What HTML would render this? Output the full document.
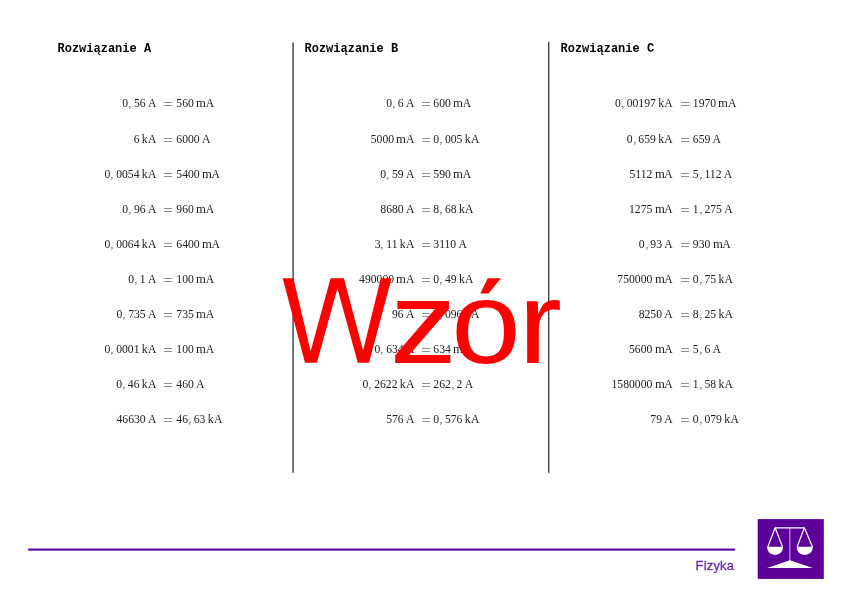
<!DOCTYPE html>
<html><head><meta charset="utf-8">
<style>
html,body{margin:0;padding:0;background:#fff;}
body{width:842px;height:596px;position:relative;overflow:hidden;}
.h{position:absolute;font-family:"Liberation Mono",monospace;font-weight:bold;font-size:12px;line-height:16px;height:16px;color:#000;white-space:pre;transform-origin:0 12px;transform:scaleY(1.07);}
.m{position:absolute;font-family:"Liberation Serif",serif;font-size:11.68px;line-height:20px;height:20px;color:#222;white-space:pre;transform-origin:0 13px;transform:scaleY(1.05);}
.m i,.m b{font-style:normal;font-weight:normal;}
.cm{display:inline-block;transform-origin:50% 75%;transform:translateX(0.4px) scale(0.8);}
.c{display:inline-block;width:2.89px;}
.u{display:inline-block;width:2.3px;}
.k{padding-right:0.3px;}
.mm{display:inline-block;padding-right:0.5px;transform-origin:0 0;transform:scaleX(1.09);}
.eq{position:absolute;width:7.7px;height:4px;border-top:1px solid #909090;border-bottom:1px solid #909090;box-sizing:border-box;}
.vl{position:absolute;}
.foot{position:absolute;left:28.2px;width:707.0px;top:548.55px;height:2.1px;background:#5c0099;}
.fiz{position:absolute;font-family:"Liberation Sans",sans-serif;font-size:12.9px;line-height:20px;color:#6e28b4;left:695.6px;top:556.2px;transform-origin:0 15px;letter-spacing:0.22px;transform:scaleX(1.0);-webkit-text-stroke:0.3px #6e28b4;}
svg{position:absolute;left:0;top:0;}
</style></head><body><div id="wrap" style="position:absolute;left:0;top:0;width:842px;height:596px;will-change:transform">
<div class="h" style="left:57.5px;top:41px">Rozwiązanie A</div>
<div class="h" style="left:304.5px;top:41px">Rozwiązanie B</div>
<div class="h" style="left:560.5px;top:41px">Rozwiązanie C</div>
<div class=m style="top:94.00px;right:685.60px">0<b class=cm>,</b><i class=c></i>56<i class=u></i>A</div>
<div class=eq style="top:101.80px;left:164.0px"></div>
<div class=m style="top:94.00px;left:176.30px">560<i class=u></i><b class=mm>m</b>A</div>
<div class=m style="top:130.05px;right:685.60px">6<i class=u></i><b class=k>k</b>A</div>
<div class=eq style="top:137.85px;left:164.0px"></div>
<div class=m style="top:130.05px;left:176.30px">6000<i class=u></i>A</div>
<div class=m style="top:165.05px;right:685.60px">0<b class=cm>,</b><i class=c></i>0054<i class=u></i><b class=k>k</b>A</div>
<div class=eq style="top:172.85px;left:164.0px"></div>
<div class=m style="top:165.05px;left:176.30px">5400<i class=u></i><b class=mm>m</b>A</div>
<div class=m style="top:200.05px;right:685.60px">0<b class=cm>,</b><i class=c></i>96<i class=u></i>A</div>
<div class=eq style="top:207.85px;left:164.0px"></div>
<div class=m style="top:200.05px;left:176.30px">960<i class=u></i><b class=mm>m</b>A</div>
<div class=m style="top:235.05px;right:685.60px">0<b class=cm>,</b><i class=c></i>0064<i class=u></i><b class=k>k</b>A</div>
<div class=eq style="top:242.85px;left:164.0px"></div>
<div class=m style="top:235.05px;left:176.30px">6400<i class=u></i><b class=mm>m</b>A</div>
<div class=m style="top:270.05px;right:685.60px">0<b class=cm>,</b><i class=c></i>1<i class=u></i>A</div>
<div class=eq style="top:277.85px;left:164.0px"></div>
<div class=m style="top:270.05px;left:176.30px">100<i class=u></i><b class=mm>m</b>A</div>
<div class=m style="top:305.05px;right:685.60px">0<b class=cm>,</b><i class=c></i>735<i class=u></i>A</div>
<div class=eq style="top:312.85px;left:164.0px"></div>
<div class=m style="top:305.05px;left:176.30px">735<i class=u></i><b class=mm>m</b>A</div>
<div class=m style="top:340.05px;right:685.60px">0<b class=cm>,</b><i class=c></i>0001<i class=u></i><b class=k>k</b>A</div>
<div class=eq style="top:347.85px;left:164.0px"></div>
<div class=m style="top:340.05px;left:176.30px">100<i class=u></i><b class=mm>m</b>A</div>
<div class=m style="top:375.05px;right:685.60px">0<b class=cm>,</b><i class=c></i>46<i class=u></i><b class=k>k</b>A</div>
<div class=eq style="top:382.85px;left:164.0px"></div>
<div class=m style="top:375.05px;left:176.30px">460<i class=u></i>A</div>
<div class=m style="top:410.05px;right:685.60px">46630<i class=u></i>A</div>
<div class=eq style="top:417.85px;left:164.0px"></div>
<div class=m style="top:410.05px;left:176.30px">46<b class=cm>,</b><i class=c></i>63<i class=u></i><b class=k>k</b>A</div>
<div class=m style="top:94.00px;right:427.60px">0<b class=cm>,</b><i class=c></i>6<i class=u></i>A</div>
<div class=eq style="top:101.80px;left:422.0px"></div>
<div class=m style="top:94.00px;left:433.30px">600<i class=u></i><b class=mm>m</b>A</div>
<div class=m style="top:130.05px;right:427.60px">5000<i class=u></i><b class=mm>m</b>A</div>
<div class=eq style="top:137.85px;left:422.0px"></div>
<div class=m style="top:130.05px;left:433.30px">0<b class=cm>,</b><i class=c></i>005<i class=u></i><b class=k>k</b>A</div>
<div class=m style="top:165.05px;right:427.60px">0<b class=cm>,</b><i class=c></i>59<i class=u></i>A</div>
<div class=eq style="top:172.85px;left:422.0px"></div>
<div class=m style="top:165.05px;left:433.30px">590<i class=u></i><b class=mm>m</b>A</div>
<div class=m style="top:200.05px;right:427.60px">8680<i class=u></i>A</div>
<div class=eq style="top:207.85px;left:422.0px"></div>
<div class=m style="top:200.05px;left:433.30px">8<b class=cm>,</b><i class=c></i>68<i class=u></i><b class=k>k</b>A</div>
<div class=m style="top:235.05px;right:427.60px">3<b class=cm>,</b><i class=c></i>11<i class=u></i><b class=k>k</b>A</div>
<div class=eq style="top:242.85px;left:422.0px"></div>
<div class=m style="top:235.05px;left:433.30px">3110<i class=u></i>A</div>
<div class=m style="top:270.05px;right:427.60px">490000<i class=u></i><b class=mm>m</b>A</div>
<div class=eq style="top:277.85px;left:422.0px"></div>
<div class=m style="top:270.05px;left:433.30px">0<b class=cm>,</b><i class=c></i>49<i class=u></i><b class=k>k</b>A</div>
<div class=m style="top:305.05px;right:427.60px">96<i class=u></i>A</div>
<div class=eq style="top:312.85px;left:422.0px"></div>
<div class=m style="top:305.05px;left:433.30px">0<b class=cm>,</b><i class=c></i>096<i class=u></i><b class=k>k</b>A</div>
<div class=m style="top:340.05px;right:427.60px">0<b class=cm>,</b><i class=c></i>634<i class=u></i>A</div>
<div class=eq style="top:347.85px;left:422.0px"></div>
<div class=m style="top:340.05px;left:433.30px">634<i class=u></i><b class=mm>m</b>A</div>
<div class=m style="top:375.05px;right:427.60px">0<b class=cm>,</b><i class=c></i>2622<i class=u></i><b class=k>k</b>A</div>
<div class=eq style="top:382.85px;left:422.0px"></div>
<div class=m style="top:375.05px;left:433.30px">262<b class=cm>,</b><i class=c></i>2<i class=u></i>A</div>
<div class=m style="top:410.05px;right:427.60px">576<i class=u></i>A</div>
<div class=eq style="top:417.85px;left:422.0px"></div>
<div class=m style="top:410.05px;left:433.30px">0<b class=cm>,</b><i class=c></i>576<i class=u></i><b class=k>k</b>A</div>
<div class=m style="top:94.00px;right:169.30px">0<b class=cm>,</b><i class=c></i>00197<i class=u></i><b class=k>k</b>A</div>
<div class=eq style="top:101.80px;left:681.0px"></div>
<div class=m style="top:94.00px;left:692.80px">1970<i class=u></i><b class=mm>m</b>A</div>
<div class=m style="top:130.05px;right:169.30px">0<b class=cm>,</b><i class=c></i>659<i class=u></i><b class=k>k</b>A</div>
<div class=eq style="top:137.85px;left:681.0px"></div>
<div class=m style="top:130.05px;left:692.80px">659<i class=u></i>A</div>
<div class=m style="top:165.05px;right:169.30px">5112<i class=u></i><b class=mm>m</b>A</div>
<div class=eq style="top:172.85px;left:681.0px"></div>
<div class=m style="top:165.05px;left:692.80px">5<b class=cm>,</b><i class=c></i>112<i class=u></i>A</div>
<div class=m style="top:200.05px;right:169.30px">1275<i class=u></i><b class=mm>m</b>A</div>
<div class=eq style="top:207.85px;left:681.0px"></div>
<div class=m style="top:200.05px;left:692.80px">1<b class=cm>,</b><i class=c></i>275<i class=u></i>A</div>
<div class=m style="top:235.05px;right:169.30px">0<b class=cm>,</b><i class=c></i>93<i class=u></i>A</div>
<div class=eq style="top:242.85px;left:681.0px"></div>
<div class=m style="top:235.05px;left:692.80px">930<i class=u></i><b class=mm>m</b>A</div>
<div class=m style="top:270.05px;right:169.30px">750000<i class=u></i><b class=mm>m</b>A</div>
<div class=eq style="top:277.85px;left:681.0px"></div>
<div class=m style="top:270.05px;left:692.80px">0<b class=cm>,</b><i class=c></i>75<i class=u></i><b class=k>k</b>A</div>
<div class=m style="top:305.05px;right:169.30px">8250<i class=u></i>A</div>
<div class=eq style="top:312.85px;left:681.0px"></div>
<div class=m style="top:305.05px;left:692.80px">8<b class=cm>,</b><i class=c></i>25<i class=u></i><b class=k>k</b>A</div>
<div class=m style="top:340.05px;right:169.30px">5600<i class=u></i><b class=mm>m</b>A</div>
<div class=eq style="top:347.85px;left:681.0px"></div>
<div class=m style="top:340.05px;left:692.80px">5<b class=cm>,</b><i class=c></i>6<i class=u></i>A</div>
<div class=m style="top:375.05px;right:169.30px">1580000<i class=u></i><b class=mm>m</b>A</div>
<div class=eq style="top:382.85px;left:681.0px"></div>
<div class=m style="top:375.05px;left:692.80px">1<b class=cm>,</b><i class=c></i>58<i class=u></i><b class=k>k</b>A</div>
<div class=m style="top:410.05px;right:169.30px">79<i class=u></i>A</div>
<div class=eq style="top:417.85px;left:681.0px"></div>
<div class=m style="top:410.05px;left:692.80px">0<b class=cm>,</b><i class=c></i>079<i class=u></i><b class=k>k</b>A</div>
<div class="fiz">Fizyka</div>
<svg width="842" height="596" viewBox="0 0 842 596">
<rect x="292" y="42.4" width="1" height="430.4" fill="#8c8c8c"/>
<rect x="293" y="42.4" width="1" height="430.4" fill="#666666"/>
<rect x="548" y="42.1" width="1" height="430.7" fill="#404040"/>
<rect x="549" y="42.1" width="1" height="430.7" fill="#b4b4b4"/>
<rect x="28.2" y="548.55" width="707.0" height="2.1" fill="#5c0099"/>
<g transform="translate(757.7 519.1)">
<rect x="0" y="0" width="66.1" height="59.8" fill="#5c0099"/>
<g fill="none" stroke="#fff" stroke-width="1.25" stroke-linejoin="round">
<line x1="32.2" y1="8.7" x2="32.2" y2="42" stroke="#d8b8f0" stroke-width="1"/>
<polyline points="10.1,27.8 17.45,8.7 46.7,8.7 54.8,27.8"/>
<polyline points="24.8,27.8 17.45,8.7"/>
<polyline points="39.4,27.8 46.7,8.7"/>
</g>
<g fill="#fff">
<path d="M9.4,27.6 L25.3,27.6 C25.3,33 21.5,35.6 17.35,35.6 C13.2,35.6 9.4,33 9.4,27.6 Z"/>
<path d="M39,27.6 L55.1,27.6 C55.1,33 51.3,35.6 47.05,35.6 C42.8,35.6 39,33 39,27.6 Z"/>
<path d="M9.4,48.8 L32.2,41.2 L55.1,48.8 Z"/>
</g>
</g>
<g fill="#ff0000" font-family="Liberation Sans" font-size="117"><polygon points="282.7,278.2 293.4,278.2 310.6,351.3 330.6,278.2 343.9,278.2 363.1,350.5 380.8,278.2 391.6,278.2 369.0,362.8 357.8,362.8 337.4,288.4 316.9,362.8 305.0,362.8"/><text transform="translate(389.65 363.2) scale(1.15 0.997)" x="0" y="0">z</text><text transform="translate(451.15 363.2) scale(1.068 1.0)" x="0" y="0">o</text><text transform="translate(518.0 363.2) scale(1.13 1.0)" x="0" y="0">r</text><polygon points="487.7,278.3 500.9,278.3 488.6,293.4 480.4,293.4"/></g>
</svg>
</div></body></html>
